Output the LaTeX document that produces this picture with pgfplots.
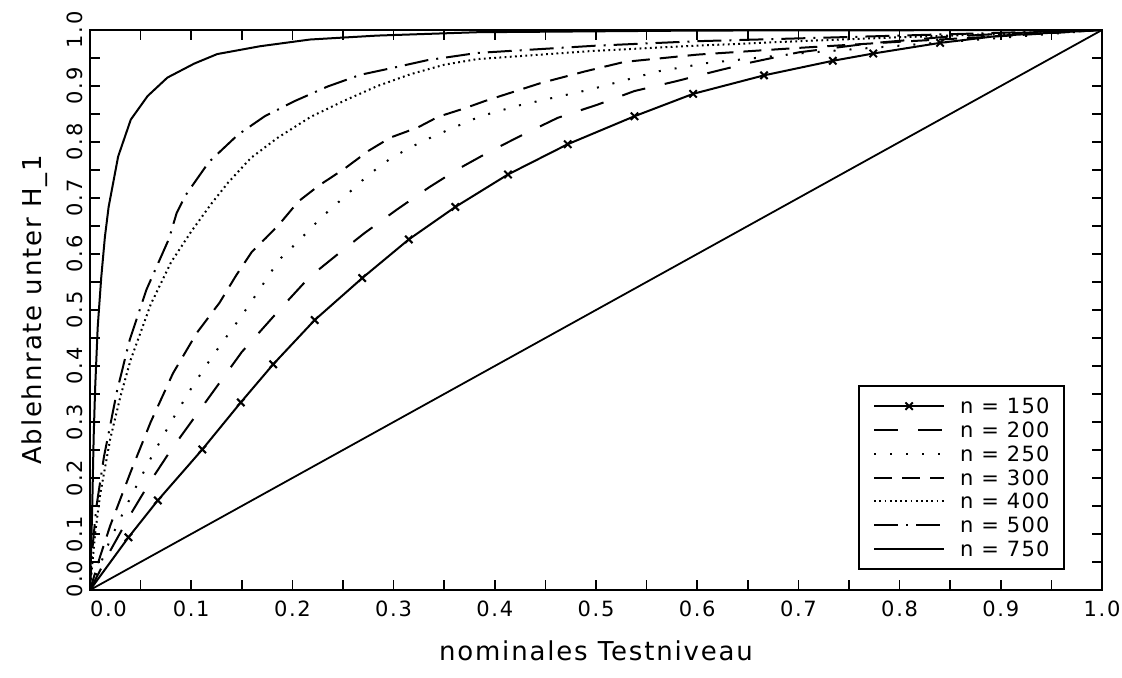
\documentclass[border=0pt]{standalone}
\usepackage{fontspec}
\setmainfont{DejaVu Sans}[LetterSpace=4]
\usepackage{pgfplots}
\pgfplotsset{compat=1.18}

\begin{document}
\begin{tikzpicture}
\begin{axis}[
    at={(0,0)}, anchor=south west,
    scale only axis,
    width=506pt, height=280pt,
    xmin=0, xmax=1, ymin=0, ymax=1,
    xtick={0,0.1,0.2,0.3,0.4,0.5,0.6,0.7,0.8,0.9,1},
    ytick={0,0.1,0.2,0.3,0.4,0.5,0.6,0.7,0.8,0.9,1},
    xticklabels={\hphantom{0.0}0.0,0.1,0.2,0.3,0.4,0.5,0.6,0.7,0.8,0.9,1.0},
    yticklabels={\hphantom{0.}0.0,0.1,0.2,0.3,0.4,0.5,0.6,0.7,0.8,0.9,1.0},
    minor x tick num=1, minor y tick num=1,
    major tick length=5pt, minor tick length=5pt,
    tick style={black, line width=0.8pt},
    tick pos=both,
    axis line style={line width=1.3pt},
    /pgf/number format/assume math mode=true,
    ticklabel style={font=\fontsize{10.5}{12}\selectfont\addfontfeature{LetterSpace=8}},
    xticklabel style={yshift=-2pt},
    yticklabel style={rotate=90, anchor=south},
    xlabel={nominales Testniveau},
    ylabel={Ablehnrate unter H\_1},
    label style={font=\fontsize{13}{15}\selectfont\addfontfeature{LetterSpace=7}},
    xlabel style={yshift=-5pt},
    ylabel style={yshift=3pt},
    legend style={at={(0.963,0.036)}, anchor=south east, draw=black,
        line width=1pt, font=\fontsize{10.5}{12}\selectfont\addfontfeature{LetterSpace=6},
        nodes={text height=7.5pt, text depth=0pt, inner ysep=2.2pt, inner xsep=0pt},
        column 2/.style={nodes={text width=51.5pt, inner xsep=0pt, align=left}},
        row sep=0pt, column sep=0pt,
        inner xsep=7pt, inner ysep=4pt},
    legend cell align=left,
    legend image code/.code={\draw[mark repeat=2,mark phase=2,#1,mark indices={2}]
        plot coordinates {(0pt,0pt)(17.5pt,0pt)(35pt,0pt)};},
    every axis plot/.append style={line width=1pt, black},
]
% diagonal
\addplot[line width=0.9pt, forget plot] coordinates {(0,0)(1,1)};

% n = 150
\addplot[solid, mark=x, mark size=2.6pt,
    mark options={solid, line width=1pt},
    mark indices={2,3,4,5,6,7,8,9,10,11,12,13,14,15,16,17,18}]
coordinates {(0,0)(0.038,0.094)(0.067,0.160)(0.111,0.251)(0.149,0.335)
    (0.181,0.403)(0.222,0.482)(0.269,0.557)(0.315,0.626)(0.361,0.684)
    (0.413,0.742)(0.472,0.796)(0.538,0.846)(0.596,0.886)(0.666,0.919)
    (0.734,0.945)(0.774,0.958)(0.840,0.977)(0.900,0.990)(1,1)};
\addlegendentry{\hspace*{7.5pt}n = 150}

% n = 200
\addplot[dash pattern=on 12pt off 10pt]
coordinates {(0,0)(0.01,0.035)(0.02,0.07)(0.04,0.135)(0.06,0.195)(0.08,0.25)
    (0.10,0.30)(0.12,0.35)(0.15,0.425)(0.189,0.504)(0.217,0.559)(0.243,0.597)
    (0.271,0.637)(0.303,0.679)(0.335,0.719)(0.364,0.752)(0.396,0.784)
    (0.430,0.815)(0.462,0.843)(0.502,0.867)(0.538,0.891)(0.578,0.908)
    (0.613,0.924)(0.653,0.942)(0.70,0.960)(0.77,0.976)(0.847,0.988)
    (0.92,0.995)(1,1)};
\addlegendentry{\hspace*{7.5pt}n = 200}

% n = 250
\addplot[dash pattern=on 1pt off 7pt]
coordinates {(0,0)(0.01,0.045)(0.02,0.09)(0.04,0.165)(0.06,0.235)(0.08,0.30)
    (0.10,0.36)(0.12,0.415)(0.15,0.49)(0.167,0.535)(0.187,0.590)(0.206,0.623)
    (0.229,0.666)(0.252,0.703)(0.275,0.741)(0.298,0.772)(0.327,0.800)
    (0.357,0.824)(0.386,0.846)(0.423,0.865)(0.495,0.894)(0.561,0.926)
    (0.610,0.941)(0.70,0.958)(0.80,0.972)(0.90,0.986)(1,1)};
\addlegendentry{\hspace*{7.5pt}n = 250}

% n = 300
\addplot[dash pattern=on 9pt off 5pt]
coordinates {(0,0)(0.01,0.06)(0.02,0.115)(0.04,0.21)(0.06,0.30)(0.082,0.387)
    (0.1055,0.459)(0.128,0.513)(0.1445,0.562)(0.160,0.604)(0.174,0.629)
    (0.187,0.653)(0.206,0.694)(0.226,0.722)(0.252,0.753)(0.275,0.784)
    (0.297,0.808)(0.324,0.826)(0.344,0.845)(0.370,0.860)(0.390,0.873)
    (0.445,0.905)(0.489,0.926)(0.528,0.943)(0.60,0.956)(0.70,0.968)
    (0.80,0.979)(0.90,0.989)(1,1)};
\addlegendentry{\hspace*{7.5pt}n = 300}

% n = 400
\addplot[dash pattern=on 0.9pt off 1.7pt]
coordinates {(0,0)(0.005,0.10)(0.01,0.17)(0.02,0.27)(0.03,0.345)(0.04,0.41)
    (0.06,0.51)(0.08,0.585)(0.10,0.64)(0.12,0.69)(0.1367,0.728)(0.1593,0.772)
    (0.1858,0.808)(0.2182,0.845)(0.2516,0.874)(0.2841,0.900)(0.3166,0.921)
    (0.3501,0.938)(0.3827,0.948)(0.50,0.963)(0.60,0.972)(0.70,0.980)
    (0.80,0.987)(0.90,0.993)(1,1)};
\addlegendentry{\hspace*{7.5pt}n = 400}

% n = 500
\addplot[dash pattern=on 12pt off 4pt on 1pt off 4pt]
coordinates {(0,0)(0.0017,0.06)(0.0062,0.147)(0.0137,0.237)(0.0269,0.357)
    (0.0393,0.447)(0.0557,0.536)(0.078,0.627)(0.0856,0.673)(0.0941,0.704)
    (0.1174,0.764)(0.1462,0.813)(0.1727,0.846)(0.2022,0.873)(0.2347,0.899)
    (0.2672,0.920)(0.3008,0.933)(0.3331,0.946)(0.3826,0.959)(0.50,0.972)
    (0.60,0.980)(0.70,0.985)(0.80,0.990)(0.90,0.995)(1,1)};
\addlegendentry{\hspace*{7.5pt}n = 500}

% n = 750
\addplot[solid]
coordinates {(0,0)(0.0022,0.147)(0.0036,0.272)(0.0051,0.361)(0.0076,0.469)
    (0.0111,0.558)(0.0147,0.630)(0.0184,0.684)(0.0278,0.774)(0.0403,0.840)
    (0.0569,0.882)(0.0765,0.915)(0.103,0.940)(0.1257,0.957)(0.1681,0.971)
    (0.2175,0.983)(0.2837,0.990)(0.3825,0.996)(0.60,0.999)(1,1)};
\addlegendentry{\hspace*{7.5pt}n = 750}
\end{axis}
\pgfresetboundingbox
\path[use as bounding box] (-45pt,-44pt) rectangle (516pt,295pt);
\end{tikzpicture}
\end{document}
